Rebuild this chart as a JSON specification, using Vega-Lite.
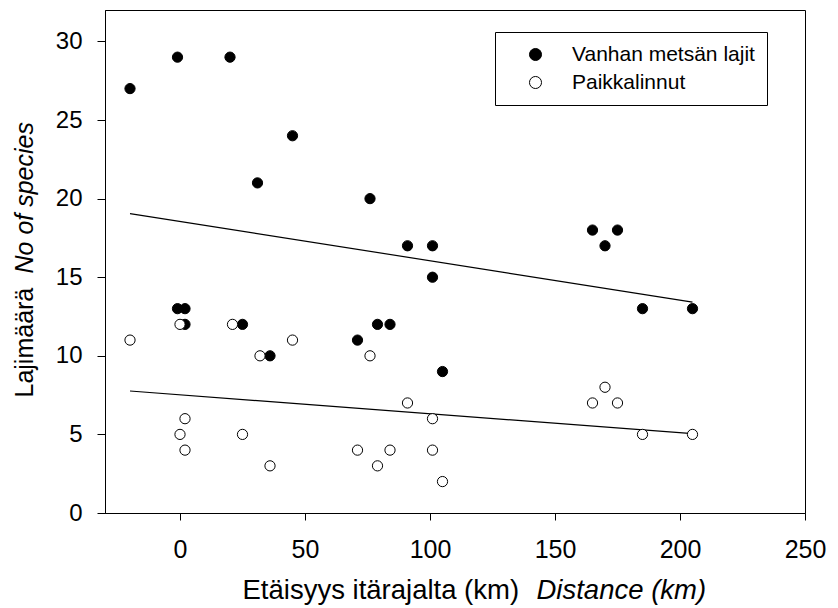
{
  "$schema": "https://vega.github.io/schema/vega-lite/v6.json",
  "autosize": {"type": "none"},
  "padding": {"left": 105, "top": 10, "right": 33, "bottom": 95},
  "width": 700,
  "height": 503,
  "background": "white",
  "config": {
    "view": {"stroke": "black", "strokeWidth": 1},
    "font": "Liberation Sans"
  },
  "datasets": {
    "points": [
      {"x": -20, "y": 27, "group": "Vanhan metsän lajit"},
      {"x": -1, "y": 29, "group": "Vanhan metsän lajit"},
      {"x": 20, "y": 29, "group": "Vanhan metsän lajit"},
      {"x": 31, "y": 21, "group": "Vanhan metsän lajit"},
      {"x": 45, "y": 24, "group": "Vanhan metsän lajit"},
      {"x": -1, "y": 13, "group": "Vanhan metsän lajit"},
      {"x": 2, "y": 13, "group": "Vanhan metsän lajit"},
      {"x": 2, "y": 12, "group": "Vanhan metsän lajit"},
      {"x": 25, "y": 12, "group": "Vanhan metsän lajit"},
      {"x": 36, "y": 10, "group": "Vanhan metsän lajit"},
      {"x": 71, "y": 11, "group": "Vanhan metsän lajit"},
      {"x": 76, "y": 20, "group": "Vanhan metsän lajit"},
      {"x": 79, "y": 12, "group": "Vanhan metsän lajit"},
      {"x": 84, "y": 12, "group": "Vanhan metsän lajit"},
      {"x": 91, "y": 17, "group": "Vanhan metsän lajit"},
      {"x": 101, "y": 17, "group": "Vanhan metsän lajit"},
      {"x": 101, "y": 15, "group": "Vanhan metsän lajit"},
      {"x": 105, "y": 9, "group": "Vanhan metsän lajit"},
      {"x": 165, "y": 18, "group": "Vanhan metsän lajit"},
      {"x": 170, "y": 17, "group": "Vanhan metsän lajit"},
      {"x": 175, "y": 18, "group": "Vanhan metsän lajit"},
      {"x": 185, "y": 13, "group": "Vanhan metsän lajit"},
      {"x": 205, "y": 13, "group": "Vanhan metsän lajit"},
      {"x": -20, "y": 11, "group": "Paikkalinnut"},
      {"x": 0, "y": 12, "group": "Paikkalinnut"},
      {"x": 21, "y": 12, "group": "Paikkalinnut"},
      {"x": 32, "y": 10, "group": "Paikkalinnut"},
      {"x": 45, "y": 11, "group": "Paikkalinnut"},
      {"x": 76, "y": 10, "group": "Paikkalinnut"},
      {"x": 2, "y": 6, "group": "Paikkalinnut"},
      {"x": 0, "y": 5, "group": "Paikkalinnut"},
      {"x": 25, "y": 5, "group": "Paikkalinnut"},
      {"x": 2, "y": 4, "group": "Paikkalinnut"},
      {"x": 36, "y": 3, "group": "Paikkalinnut"},
      {"x": 71, "y": 4, "group": "Paikkalinnut"},
      {"x": 79, "y": 3, "group": "Paikkalinnut"},
      {"x": 84, "y": 4, "group": "Paikkalinnut"},
      {"x": 91, "y": 7, "group": "Paikkalinnut"},
      {"x": 101, "y": 6, "group": "Paikkalinnut"},
      {"x": 101, "y": 4, "group": "Paikkalinnut"},
      {"x": 105, "y": 2, "group": "Paikkalinnut"},
      {"x": 165, "y": 7, "group": "Paikkalinnut"},
      {"x": 170, "y": 8, "group": "Paikkalinnut"},
      {"x": 175, "y": 7, "group": "Paikkalinnut"},
      {"x": 185, "y": 5, "group": "Paikkalinnut"},
      {"x": 205, "y": 5, "group": "Paikkalinnut"}
    ],
    "fits": [
      {"x": -20, "y": 19.05, "group": "Vanhan metsän lajit"},
      {"x": 205, "y": 13.42, "group": "Vanhan metsän lajit"},
      {"x": -20, "y": 7.76, "group": "Paikkalinnut"},
      {"x": 205, "y": 5.05, "group": "Paikkalinnut"}
    ]
  },
  "layer": [
    {
      "data": {"name": "fits"},
      "mark": {"type": "line", "color": "black", "strokeWidth": 1.2},
      "encoding": {
        "x": {
          "field": "x", "type": "quantitative",
          "scale": {"domain": [-30, 250], "nice": false, "zero": false},
          "axis": {
            "orient": "bottom", "title": "Distance (km)", "titleFontStyle": "italic",
            "titleFont": "Liberation Sans", "titleFontSize": 27.5, "titleFontWeight": "normal",
            "titleColor": "black", "titleX": 431, "titleY": 85, "titleAlign": "left",
            "titleBaseline": "alphabetic", "labels": false, "ticks": false, "domain": false, "grid": false
          }
        },
        "y": {
          "field": "y", "type": "quantitative",
          "scale": {"domain": [0, 32], "nice": false},
          "axis": {
            "orient": "left", "title": "No of species", "titleFontStyle": "italic",
            "titleFont": "Liberation Sans", "titleFontSize": 25, "titleFontWeight": "normal",
            "titleColor": "black", "titleX": -73, "titleY": 263, "titleAngle": -90, "titleAlign": "left",
            "titleBaseline": "alphabetic", "labels": false, "ticks": false, "domain": false, "grid": false
          }
        },
        "detail": {"field": "group", "type": "nominal"}
      }
    },
    {
      "data": {"name": "points"},
      "mark": {"type": "point", "shape": "circle", "filled": true, "size": 105, "stroke": "black", "strokeWidth": 1, "opacity": 1},
      "encoding": {
        "x": {
          "field": "x", "type": "quantitative",
          "scale": {"domain": [-30, 250], "nice": false, "zero": false},
          "axis": {
            "orient": "bottom", "title": "Etäisyys itärajalta (km)",
            "titleFont": "Liberation Sans", "titleFontSize": 27.5, "titleFontWeight": "normal",
            "titleColor": "black", "titleX": 137, "titleY": 85, "titleAlign": "left",
            "titleBaseline": "alphabetic",
            "values": [0, 50, 100, 150, 200, 250],
            "labelFont": "Liberation Sans", "labelFontSize": 25, "labelColor": "black",
            "labelPadding": 17, "tickSize": 7, "tickColor": "black", "domainColor": "black",
            "grid": false, "labelFlush": false
          }
        },
        "y": {
          "field": "y", "type": "quantitative",
          "scale": {"domain": [0, 32], "nice": false},
          "axis": {
            "orient": "left", "title": "Lajimäärä",
            "titleFont": "Liberation Sans", "titleFontSize": 25, "titleFontWeight": "normal",
            "titleColor": "black", "titleX": -73, "titleY": 387, "titleAngle": -90, "titleAlign": "left",
            "titleBaseline": "alphabetic",
            "values": [0, 5, 10, 15, 20, 25, 30],
            "labelFont": "Liberation Sans", "labelFontSize": 24, "labelColor": "black",
            "labelPadding": 15, "tickSize": 8, "tickColor": "black", "domainColor": "black",
            "grid": false, "labelFlush": false
          }
        },
        "fill": {
          "field": "group", "type": "nominal",
          "scale": {"domain": ["Vanhan metsän lajit", "Paikkalinnut"], "range": ["black", "white"]},
          "legend": {
            "title": null, "orient": "none", "legendX": 390, "legendY": 22,
            "strokeColor": "black", "padding": 12, "fillColor": "white",
            "symbolType": "circle", "symbolSize": 145, "symbolStrokeColor": "black", "symbolStrokeWidth": 1,
            "symbolOffset": 18, "labelOffset": 26, "rowPadding": 6,
            "labelFont": "Liberation Sans", "labelFontSize": 21, "labelColor": "black", "labelLimit": 400
          }
        }
      }
    }
  ],
  "resolve": {"axis": {"x": "independent", "y": "independent"}}
}
